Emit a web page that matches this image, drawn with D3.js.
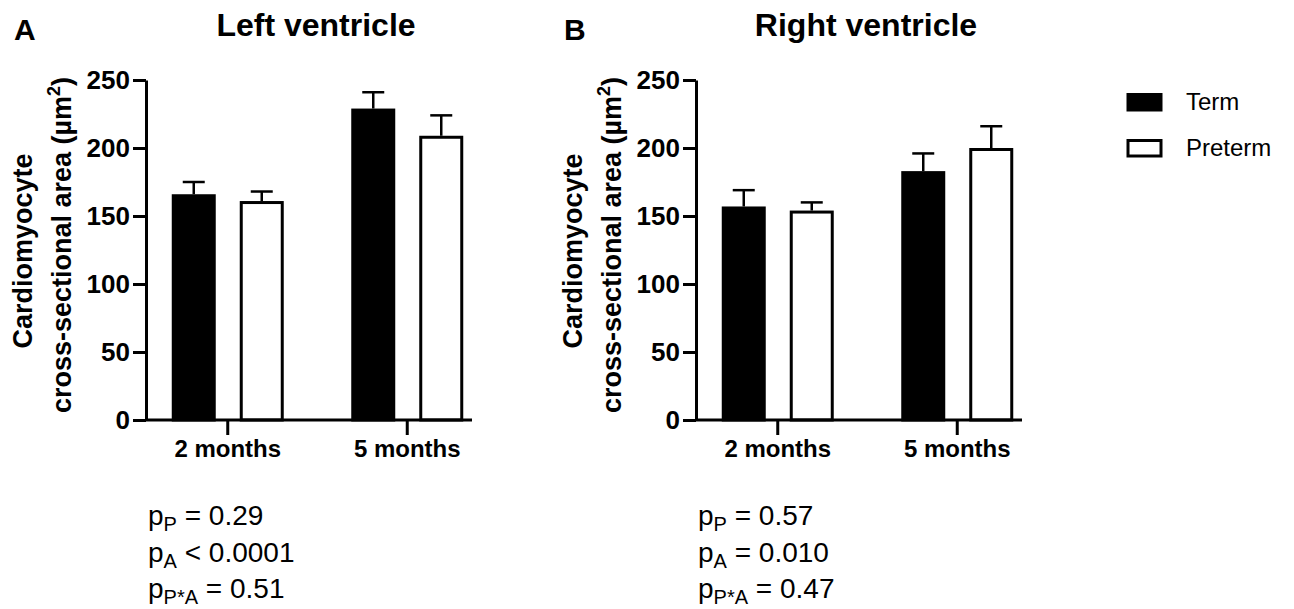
<!DOCTYPE html>
<html>
<head>
<meta charset="utf-8">
<script src="https://cdn.jsdelivr.net/npm/d3@7"></script>
<style>
  body { margin: 0; background: #fff; }
  svg text { font-family: "Liberation Sans", Arial, Helvetica, sans-serif; fill: #000; }
</style>
</head>
<body>
<div id="chart"></div>
<script>
// data
var ages = ["2 months", "5 months"]
var groups = ["Term", "Preterm"]
var yTicks = [0, 50, 100, 150, 200, 250]

var lvMean = [[166, 161], [229, 209]]   // [age][group]
var lvSem  = [[9, 7], [12, 15]]
var rvMean = [[157, 154], [183, 200]]
var rvSem  = [[12, 6], [13, 16]]

var lvStats = [["P", " = 0.29"], ["A", " < 0.0001"], ["P*A", " = 0.51"]]
var rvStats = [["P", " = 0.57"], ["A", " = 0.010"], ["P*A", " = 0.47"]]

var w = 1294, h = 609,
	svg = d3.select("#chart").append("svg")
		.attr("width", w)
		.attr("height", h),
	fills = {"Term": "#000", "Preterm": "#fff"}

var drawPanel = (offset, letter, title, means, sems, stats) => {
	var g = svg.append("g").attr("transform", "translate(" + offset + ",0)")
	var left = 146, right = 472, top = 80, bottom = 420

	var y = d3.scaleLinear().domain([0, 250]).range([bottom, top])
	var x = d3.scaleBand().domain(ages).range([138, 497]).padding(0)
	var xs = d3.scaleBand().domain(groups).range([-56, 56]).paddingInner(0.353)

	// bars
	var rows = []
	ages.forEach((a, i) => groups.forEach((s, j) => {
		rows.push({age: a, group: s, mean: means[i][j], sem: sems[i][j]})
	}))

	var cx = d => x(d.age) + x.bandwidth() / 2 + xs(d.group)

	g.selectAll("rect.bar")
		.data(rows)
		.enter()
		.append("rect")
		.attr("class", "bar")
		.attr("x", d => cx(d) + 1.5)
		.attr("y", d => y(d.mean) + 1.5)
		.attr("width", xs.bandwidth() - 3)
		.attr("height", d => y(0) - y(d.mean) - 1.5)
		.attr("fill", d => fills[d.group])
		.attr("stroke", "#000")
		.attr("stroke-width", 3)

	// error bars (upper only)
	var err = g.selectAll("g.err").data(rows).enter().append("g")
	err.append("line")
		.attr("x1", d => cx(d) + xs.bandwidth() / 2)
		.attr("x2", d => cx(d) + xs.bandwidth() / 2)
		.attr("y1", d => y(d.mean))
		.attr("y2", d => y(d.mean + d.sem))
		.attr("stroke", "#000").attr("stroke-width", 2.5)
	err.append("line")
		.attr("x1", d => cx(d) + xs.bandwidth() / 2 - 11)
		.attr("x2", d => cx(d) + xs.bandwidth() / 2 + 11)
		.attr("y1", d => y(d.mean + d.sem))
		.attr("y2", d => y(d.mean + d.sem))
		.attr("stroke", "#000").attr("stroke-width", 2.5)

	// y axis
	var yAxis = g.append("g")
		.attr("transform", "translate(" + left + ",0)")
		.call(d3.axisLeft(y).tickValues(yTicks).tickSize(13).tickSizeOuter(0).tickPadding(3))
	yAxis.selectAll("path, line").attr("stroke", "#000").attr("stroke-width", 3)
	yAxis.selectAll("text")
		.style("font-family", "'Liberation Sans', Arial, sans-serif")
		.style("font-size", "26px").style("font-weight", "bold").attr("fill", "#000")

	// x axis
	var xAxis = g.append("g")
		.attr("transform", "translate(0," + bottom + ")")
		.call(d3.axisBottom(x).tickSize(15).tickSizeOuter(0).tickPadding(5))
	xAxis.select(".domain").attr("d", "M" + left + ",0H" + right)
	xAxis.selectAll("path, line").attr("stroke", "#000").attr("stroke-width", 3)
	xAxis.selectAll("text")
		.style("font-family", "'Liberation Sans', Arial, sans-serif")
		.style("font-size", "24px").style("font-weight", "bold").attr("fill", "#000")

	// y label
	g.append("text")
		.attr("transform", "translate(32,251) rotate(-90)")
		.attr("text-anchor", "middle")
		.style("font-size", "27px").style("font-weight", "bold")
		.text("Cardiomyocyte")
	var yl2 = g.append("text")
		.attr("transform", "translate(71,245) rotate(-90)")
		.attr("text-anchor", "middle")
		.style("font-size", "27px").style("font-weight", "bold")
	yl2.append("tspan").text("cross-sectional area (\u00b5m")
	yl2.append("tspan").attr("dy", -11).style("font-size", "18px").text("2")
	yl2.append("tspan").attr("dy", 11).text(")")

	// titles
	g.append("text").attr("x", 14).attr("y", 40)
		.style("font-size", "30px").style("font-weight", "bold").text(letter)
	g.append("text").attr("x", 316).attr("y", 36).attr("text-anchor", "middle")
		.style("font-size", "32px").style("font-weight", "bold").text(title)

	// p values
	stats.forEach((s, i) => {
		var t = g.append("text").attr("x", 148).attr("y", 525 + i * 36.5)
			.style("font-size", "28px")
		t.append("tspan").text("p")
		t.append("tspan").attr("dy", 6).style("font-size", "20px").text(s[0])
		t.append("tspan").attr("dy", -6).text(s[1])
	})
}

drawPanel(0, "A", "Left ventricle", lvMean, lvSem, lvStats)
drawPanel(550, "B", "Right ventricle", rvMean, rvSem, rvStats)

// legend
var legend = svg.append("g")
groups.forEach((s, i) => {
	legend.append("rect")
		.attr("x", 1128).attr("y", 94.5 + i * 46)
		.attr("width", 33).attr("height", 15.5)
		.attr("fill", fills[s]).attr("stroke", "#000").attr("stroke-width", 3)
	legend.append("text")
		.attr("x", 1186).attr("y", 110 + i * 46)
		.style("font-size", "24px")
		.text(s)
})
</script>
</body>
</html>
